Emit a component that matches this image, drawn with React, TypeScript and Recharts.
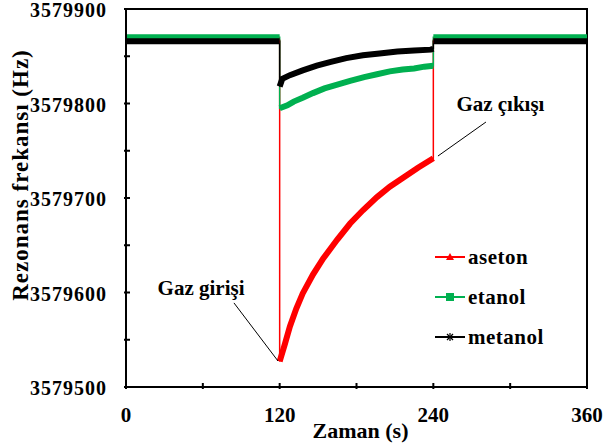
import {
  LineChart,
  Line,
  XAxis,
  YAxis,
  ReferenceArea,
  ReferenceLine,
  ReferenceDot,
  Legend,
} from "recharts";

const timeTicks = [0, 60, 120, 180, 240, 300, 360];
const timeLabels = [0, 120, 240, 360];
const hzTicks = [3579500, 3579550, 3579600, 3579650, 3579700, 3579750, 3579800, 3579850, 3579900];
const hzLabels = [3579500, 3579600, 3579700, 3579800, 3579900];

// aseton
const asetonTime = [0, 120, 120, 124, 128, 133, 138, 146, 154, 165, 175, 185, 196, 206, 217, 228, 240, 240, 360];
const asetonHz = [
  3579867, 3579867, 3579527, 3579545, 3579564, 3579583, 3579599, 3579619, 3579636, 3579656,
  3579673, 3579687, 3579701, 3579712, 3579722, 3579732, 3579742, 3579867, 3579867,
];

// etanol
const etanolTime = [0, 120, 120, 126, 131, 138, 146, 155, 165, 175, 186, 196, 206, 216, 225, 233, 240, 240, 360];
const etanolHz = [
  3579870, 3579870, 3579795, 3579798, 3579802, 3579806, 3579811, 3579816, 3579820, 3579824,
  3579828, 3579831, 3579834, 3579836, 3579837, 3579839, 3579840, 3579870, 3579870,
];

// metanol
const metanolTime = [0, 120, 120, 122, 128, 138, 149, 160, 172, 185, 198, 212, 225, 238, 240, 240, 360];
const metanolHz = [
  3579866, 3579866, 3579818, 3579826, 3579830, 3579835, 3579840, 3579844, 3579848, 3579851,
  3579853, 3579855, 3579856, 3579857, 3579858, 3579866, 3579866,
];

const font = "'Liberation Serif', 'Times New Roman', serif";

const toRows = (time: number[], hz: number[]) => time.map((t, i) => ({ t, hz: hz[i] }));

// same rows, broken at the vertical jumps so the thick band skips them
const toBand = (time: number[], hz: number[]) => {
  const rows: { t: number; hz: number | null }[] = [];
  time.forEach((t, i) => {
    if (i > 0 && time[i - 1] === t) rows.push({ t, hz: null });
    rows.push({ t, hz: hz[i] });
  });
  return rows;
};

const gases = [
  { name: "aseton", color: "#ff0000", time: asetonTime, hz: asetonHz, marker: "triangle" },
  { name: "etanol", color: "#00b050", time: etanolTime, hz: etanolHz, marker: "square" },
  { name: "metanol", color: "#000000", time: metanolTime, hz: metanolHz, marker: "star" },
];

const XTick = ({ x, y, payload }: any) => (
  <g>
    <line x1={x} y1={y} x2={x} y2={y - 6} stroke="#000" strokeWidth={2} />
    {timeLabels.includes(payload.value) && (
      <text x={x} y={y + 33} textAnchor="middle" fontFamily={font} fontWeight="bold" fontSize={21} fill="#000">
        {payload.value}
      </text>
    )}
  </g>
);

const YTick = ({ x, y, payload }: any) => (
  <g>
    <line x1={x} y1={y} x2={x + 6} y2={y} stroke="#000" strokeWidth={2} />
    {hzLabels.includes(payload.value) && (
      <text
        x={x - 17}
        y={y + 8}
        textAnchor="end"
        fontFamily={font}
        fontWeight="bold"
        fontSize={20}
        letterSpacing={1}
        fill="#000"
      >
        {payload.value}
      </text>
    )}
  </g>
);

const Marker = ({ kind, color, x, y }: { kind: string; color: string; x: number; y: number }) => {
  if (kind === "triangle")
    return <polygon points={`${x},${y - 4} ${x - 4},${y + 3} ${x + 4},${y + 3}`} fill={color} />;
  if (kind === "square") return <rect x={x - 4} y={y - 4} width={8} height={8} fill={color} />;
  return (
    <g stroke={color} strokeWidth={1.2}>
      <line x1={x - 4} y1={y} x2={x + 4} y2={y} />
      <line x1={x - 3} y1={y - 3} x2={x + 3} y2={y + 3} />
      <line x1={x - 3} y1={y + 3} x2={x + 3} y2={y - 3} />
      <line x1={x} y1={y - 4} x2={x} y2={y + 4} />
    </g>
  );
};

const LegendBox = () => (
  <svg width={150} height={120}>
    {gases.map((g, i) => {
      const cy = 17 + i * 40;
      return (
        <g key={g.name}>
          <line x1={5} y1={cy} x2={35} y2={cy} stroke={g.color} strokeWidth={2} />
          <Marker kind={g.marker} color={g.color} x={20} y={cy} />
          <text x={38} y={cy + 7} fontFamily={font} fontWeight="bold" fontSize={21} letterSpacing={0.5} fill="#000">
            {g.name}
          </text>
        </g>
      );
    })}
  </svg>
);

const Note = (text: string) => ({ viewBox }: any) => (
  <text
    x={viewBox.x + viewBox.width / 2}
    y={viewBox.y + viewBox.height / 2 + 7}
    textAnchor="middle"
    fontFamily={font}
    fontWeight="bold"
    fontSize={21}
    fill="#000"
  >
    {text}
  </text>
);

export default function App() {
  return (
    <div style={{ position: "absolute", left: 0, top: 0 }}>
      <LineChart width={603} height={446} margin={{ top: 9, right: 16, left: 26, bottom: 29 }}>
        <XAxis
          dataKey="t"
          type="number"
          domain={[0, 360]}
          ticks={timeTicks}
          tickLine={false}
          tickSize={0}
          tick={<XTick />}
          axisLine={{ stroke: "#000", strokeWidth: 2 }}
          height={30}
          allowDuplicatedCategory={false}
          label={{
            content: ({ viewBox }: any) => (
              <text
                x={viewBox.x + viewBox.width / 2 + 4}
                y={viewBox.y + 51}
                textAnchor="middle"
                fontFamily={font}
                fontWeight="bold"
                fontSize={22}
                fill="#000"
              >
                Zaman (s)
              </text>
            ),
          }}
        />
        <YAxis
          type="number"
          domain={[3579500, 3579900]}
          ticks={hzTicks}
          tickLine={false}
          tickSize={0}
          tick={<YTick />}
          axisLine={{ stroke: "#000", strokeWidth: 2 }}
          width={100}
          allowDataOverflow
          label={{
            content: ({ viewBox }: any) => {
              const x = viewBox.x + 2;
              const y = viewBox.y + viewBox.height / 2 - 23;
              return (
                <text
                  x={x}
                  y={y}
                  transform={`rotate(-90 ${x} ${y})`}
                  textAnchor="middle"
                  fontFamily={font}
                  fontWeight="bold"
                  fontSize={23}
                  letterSpacing={1}
                  fill="#000"
                >
                  Rezonans frekansı (Hz)
                </text>
              );
            },
          }}
        />
        <ReferenceArea
          x1={0}
          x2={360}
          y1={3579500}
          y2={3579900}
          fill="none"
          stroke="#000"
          strokeWidth={2}
          fillOpacity={0}
          ifOverflow="visible"
        />
        {gases.map((g) => (
          <Line
            key={g.name + "-thin"}
            data={toRows(g.time, g.hz)}
            dataKey="hz"
            stroke={g.color}
            strokeWidth={1.5}
            dot={false}
            activeDot={false}
            legendType="none"
            isAnimationActive={false}
          />
        ))}
        {gases.map((g) => (
          <Line
            key={g.name + "-band"}
            data={toBand(g.time, g.hz)}
            dataKey="hz"
            stroke={g.color}
            strokeWidth={6}
            dot={false}
            activeDot={false}
            legendType="none"
            isAnimationActive={false}
          />
        ))}
        <ReferenceLine
          segment={[
            { x: 84.3, y: 3579589 },
            { x: 118.7, y: 3579527.5 },
          ]}
          stroke="#000"
          strokeWidth={1}
          ifOverflow="visible"
        />
        <ReferenceLine
          segment={[
            { x: 281.1, y: 3579780.4 },
            { x: 243.6, y: 3579744.4 },
          ]}
          stroke="#000"
          strokeWidth={1}
          ifOverflow="visible"
        />
        <ReferenceDot x={58.6} y={3579604.8} r={1} fill="none" stroke="none" label={{ content: Note("Gaz girişi") }} />
        <ReferenceDot x={292.4} y={3579799.5} r={1} fill="none" stroke="none" label={{ content: Note("Gaz çıkışı") }} />
        <Legend
          layout="vertical"
          align="center"
          verticalAlign="middle"
          content={() => <LegendBox />}
          wrapperStyle={{ left: 430, top: 240, width: 150 }}
        />
      </LineChart>
    </div>
  );
}
